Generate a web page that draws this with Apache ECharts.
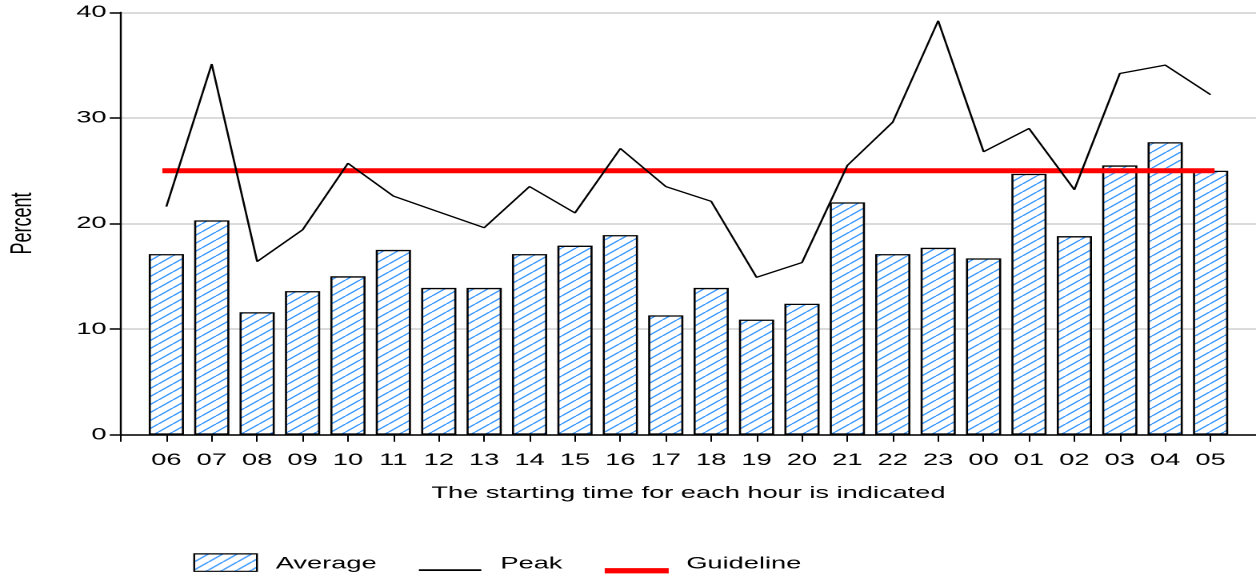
<!DOCTYPE html>
<html>
<head>
<meta charset="utf-8">
<script src="https://cdn.jsdelivr.net/npm/echarts@6/dist/echarts.min.js"></script>
<style>
  html, body { margin: 0; padding: 0; background: #fff; overflow: hidden; }
  #wrap { position: absolute; left: 0; top: 0; width: 785px; height: 577px;
          transform: scaleX(1.6); transform-origin: 0 0; }
</style>
</head>
<body>
<div id="wrap"></div>
<script>
// ---- data ----
const hours = ['06','07','08','09','10','11','12','13','14','15','16','17','18','19','20','21','22','23','00','01','02','03','04','05'];
const average = [17.1, 20.3, 11.6, 13.6, 15.0, 17.5, 13.9, 13.9, 17.1, 17.9, 18.9, 11.3, 13.9, 10.9, 12.4, 22.0, 17.1, 17.7, 16.7, 24.7, 18.8, 25.5, 27.7, 25.0];
const peak = [21.6, 35.1, 16.4, 19.4, 25.7, 22.6, 21.1, 19.6, 23.5, 21.0, 27.1, 23.5, 22.1, 14.9, 16.3, 25.5, 29.6, 39.2, 26.8, 29.0, 23.2, 34.2, 35.0, 32.2];
const guideline = [25, 25, 25, 25, 25, 25, 25, 25, 25, 25, 25, 25, 25, 25, 25, 25, 25, 25, 25, 25, 25, 25, 25, 25];
const yTicks = [0, 10, 20, 30, 40];
const seriesNames = ['Average', 'Peak', 'Guideline'];
const xTitle = 'The starting time for each hour is indicated';
const yTitle = 'Percent';

// padded category list: empty slots at both ends of the axis
const xCats = [''].concat(hours, ['']);
const pad = arr => ['-'].concat(arr, ['-']);

// hatch pattern (drawn at 2x, scaled down)
function makeHatch() {
  const c = document.createElement('canvas');
  c.width = 18; c.height = 16;
  const g = c.getContext('2d');
  g.fillStyle = '#ffffff';
  g.fillRect(0, 0, 18, 16);
  g.strokeStyle = '#3a98ff';
  g.lineWidth = 2.4;
  for (const dx of [-18, 0, 18]) {
    g.beginPath();
    g.moveTo(dx, 16);
    g.lineTo(dx + 18, 0);
    g.stroke();
  }
  return { image: c, repeat: 'repeat', scaleX: 0.5, scaleY: 0.5 };
}
const hatch = makeHatch();
const FONT = "'Liberation Sans', Arial, Helvetica, sans-serif";

const chart = echarts.init(document.getElementById('wrap'), null, { renderer: 'canvas', devicePixelRatio: 2 });
chart.setOption({
  animation: false,
  backgroundColor: '#ffffff',
  textStyle: { fontFamily: FONT, color: '#000' },
  grid: { left: 75.6, right: 0, top: 12.3, bottom: 142.3, containLabel: false, outerBoundsMode: 'none' },
  legend: {
    left: 120.8, top: 553.3, padding: 0, orient: 'horizontal',
    itemWidth: 40, itemHeight: 20, itemGap: 26.4,
    selectedMode: false,
    textStyle: { fontSize: 17, color: '#000', fontFamily: FONT, padding: [3, 0, 0, 6] },
    data: [
      { name: seriesNames[0], icon: 'path://M0,20L0,20M0,0L39.2,0L39.2,17.4L0,17.4ZM40,20L40,20',
        itemStyle: { color: hatch, borderColor: '#000', borderWidth: 1.2 } },
      { name: seriesNames[1], icon: 'path://M0,0L0,0M0,15.4L39,15.4L39,17.1L0,17.1ZM40,20L40,20',
        itemStyle: { color: '#000', borderWidth: 0 } },
      { name: seriesNames[2], icon: 'path://M0,0L0,0M0,14.2L40,14.2L40,19.5L0,19.5ZM40,20L40,20',
        itemStyle: { color: '#ff0000', borderWidth: 0 } }
    ]
  },
  xAxis: {
    type: 'category',
    data: xCats,
    boundaryGap: false,
    name: xTitle,
    nameLocation: 'middle',
    nameGap: 50,
    nameTextStyle: { fontSize: 17, color: '#000', fontFamily: FONT },
    axisLine: { show: true, lineStyle: { color: '#000', width: 1.5 } },
    axisTick: { show: true, interval: 0, length: 7, lineStyle: { color: '#000', width: 1 } },
    axisLabel: { interval: 0, margin: 17, fontSize: 17, color: '#000', fontFamily: FONT },
    splitLine: { show: false }
  },
  yAxis: {
    type: 'value',
    min: yTicks[0], max: yTicks[yTicks.length - 1], interval: yTicks[1] - yTicks[0],
    name: yTitle,
    nameLocation: 'middle',
    nameGap: 52,
    nameTextStyle: { fontSize: 18, color: '#000', fontFamily: FONT },
    axisLine: { show: true, lineStyle: { color: '#000', width: 1.2 } },
    axisTick: { show: true, length: 7, lineStyle: { color: '#000', width: 1.5 } },
    axisLabel: { margin: 9, fontSize: 17, color: '#000', fontFamily: FONT, padding: [8, 0, 0, 0] },
    splitLine: { show: true, lineStyle: { color: '#d0d0d0', width: 1.5 } }
  },
  series: [
    {
      name: seriesNames[0], type: 'bar', data: pad(average), barWidth: 22, z: 1,
      itemStyle: { color: hatch, borderColor: '#000', borderWidth: 1.3 }
    },
    {
      name: seriesNames[2], type: 'line', data: pad(guideline), symbol: 'none', z: 3,
      lineStyle: { color: '#ff0000', width: 5, cap: 'square' }
    },
    {
      name: seriesNames[1], type: 'line', data: pad(peak), symbol: 'none', z: 4,
      lineStyle: { color: '#000', width: 1.3 }
    }
  ]
});
</script>
</body>
</html>
